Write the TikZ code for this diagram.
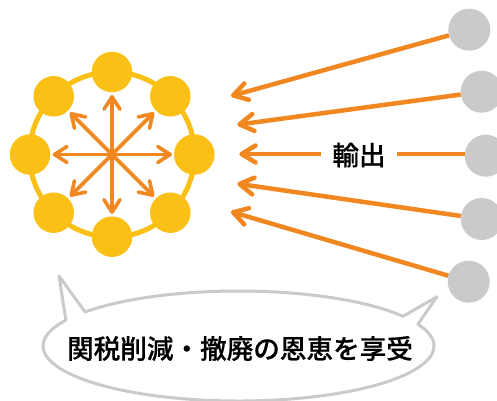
\documentclass[tikz,border=0pt]{standalone}
\usepackage{fontspec}
\newfontfamily\cjk[FakeBold=0.5]{Noto Sans CJK JP Medium}
\usetikzlibrary{arrows.meta,calc}
\definecolor{arrowor}{HTML}{F18721}
\definecolor{hubyel}{HTML}{FBC015}
\definecolor{gry}{HTML}{C9CAC9}
\tikzset{
  yeldot/.style={circle,fill=hubyel,minimum size=40.5pt,inner sep=0pt},
  grydot/.style={circle,fill=gry,minimum size=42pt,inner sep=0pt},
  bigarrow/.style={draw=arrowor,line width=4.5pt,-{Straight Barb[length=14pt,width=17pt,round]}},
  smallarrow/.style={draw=arrowor,line width=3.6pt,-{Straight Barb[length=12.5pt,width=16pt,round]}},
  lbl/.style={font=\cjk\fontsize{26.6}{27}\selectfont,text=black,inner sep=0pt},
}
\begin{document}
\begin{tikzpicture}[x=1pt,y=1pt]
\useasboundingbox (0,0) rectangle (497,400);
% ring
\coordinate (hub) at (112,245.5);
\draw[hubyel,line width=5pt] (hub) circle (82.5);
\node[yeldot] (n1) at (112,328) {};
\node[yeldot] (n2) at (170.3,303.7) {};
\node[yeldot] (n3) at (194.3,245.5) {};
\node[yeldot] (n4) at (170.3,187.3) {};
\node[yeldot] (n5) at (112,163.3) {};
\node[yeldot] (n6) at (53.7,187.3) {};
\node[yeldot] (n7) at (30,245.5) {};
\node[yeldot] (n8) at (53.7,303.7) {};
% inner arrows
\coordinate (a1) at (112,305);
\coordinate (a2) at (154,287.5);
\coordinate (a3) at (172,245.5);
\coordinate (a4) at (154,203.5);
\coordinate (a5) at (112,186);
\coordinate (a6) at (70,203.5);
\coordinate (a7) at (52.7,245.5);
\coordinate (a8) at (70,287.5);
\foreach \k in {1,...,8} \draw[smallarrow] (hub) -- (a\k);
% outer nodes
\node[grydot] (g1) at (469.3,370.3) {};
\node[grydot] (g2) at (481.7,308.3) {};
\node[grydot] (g3) at (485.7,244.3) {};
\node[grydot] (g4) at (481.7,181) {};
\node[grydot] (g5) at (468.7,118.3) {};
\coordinate (t1) at (231,304);
\coordinate (t2) at (237.3,275.3);
\coordinate (t3) at (239.3,246);
\coordinate (t4) at (237.3,216.3);
\coordinate (t5) at (231,188.3);
\node[lbl,minimum width=76pt,minimum height=30pt] (out) at (359,245) {輸出};
\draw[bigarrow] (g1) -- (t1);
\draw[bigarrow] (g2) -- (t2);
\draw[arrowor,line width=4.5pt] (g3.west |- t3) -- (out.east |- t3);
\draw[bigarrow] (out.west |- t3) -- (t3);
\draw[bigarrow] (g4) -- (t4);
\draw[bigarrow] (g5) -- (t5);
% speech bubble
\coordinate (tipL) at (59,124);
\coordinate (tipR) at (437,103.3);
\draw[gry,line width=3pt,line join=round,fill=white]
  (238.5,54) ++(141.7:195.5 and 55) arc[start angle=141.7,end angle=32.7,x radius=195.5,y radius=55]
  -- (tipR)
  -- ($(238.5,54)+(23.4:195.5 and 55)$) arc[start angle=23.4,end angle=-208,x radius=195.5,y radius=55]
  -- (tipL) -- cycle;
\node[lbl] (msg) at (240,51.5) {関税削減・撤廃の恩恵を享受};
\end{tikzpicture}
\end{document}
